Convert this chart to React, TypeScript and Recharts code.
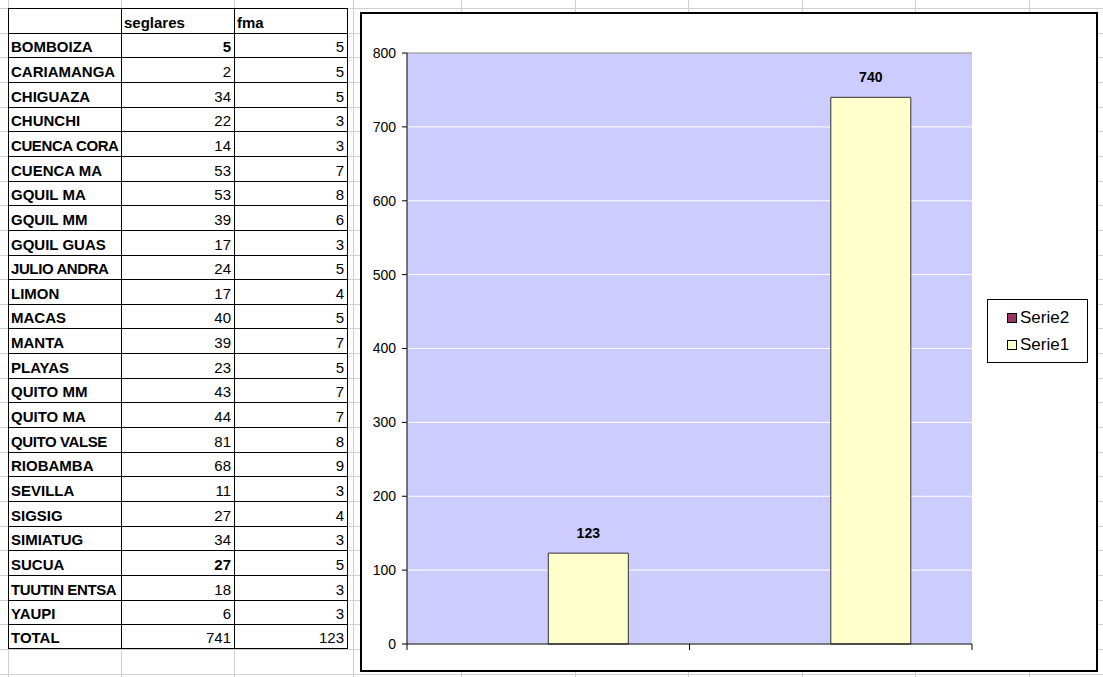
import React from 'react'
import { BarChart, Bar, XAxis, YAxis, CartesianGrid, ReferenceLine, LabelList } from 'recharts'

// chart series
const categories = ['1', '2']
const serie1 = [123, 740]
const serie2: (number | null)[] = [null, null]
const yTicks = [0, 100, 200, 300, 400, 500, 600, 700, 800]

// spreadsheet table
const headers = ['', 'seglares', 'fma']
const names = [
  'BOMBOIZA', 'CARIAMANGA', 'CHIGUAZA', 'CHUNCHI', 'CUENCA CORA', 'CUENCA MA', 'GQUIL MA', 'GQUIL MM',
  'GQUIL GUAS', 'JULIO ANDRA', 'LIMON', 'MACAS', 'MANTA', 'PLAYAS', 'QUITO MM', 'QUITO MA',
  'QUITO VALSE', 'RIOBAMBA', 'SEVILLA', 'SIGSIG', 'SIMIATUG', 'SUCUA', 'TUUTIN ENTSA', 'YAUPI', 'TOTAL'
]
const seglares = [5, 2, 34, 22, 14, 53, 53, 39, 17, 24, 17, 40, 39, 23, 43, 44, 81, 68, 11, 27, 34, 27, 18, 6, 741]
const fma = [5, 5, 5, 3, 3, 7, 8, 6, 3, 5, 4, 5, 7, 5, 7, 7, 8, 9, 3, 4, 3, 5, 3, 3, 123]
const boldSeglares = ['BOMBOIZA', 'SUCUA']

const FONT = '"Liberation Sans", Arial, sans-serif'
const ROW_H = 24.65
const TABLE_X = 8
const TABLE_Y = 8
const COL_W = [113, 113, 114]

const CHART_W = 734
const CHART_H = 656
const MARGIN = { top: 39, right: 124, bottom: 0, left: 0 }
const Y_AXIS_W = 45
const PLOT_W = CHART_W - MARGIN.left - MARGIN.right - Y_AXIS_W

const seriesInfo = [
  { key: 'Serie2', color: '#993366' },
  { key: 'Serie1', color: '#FFFFCC' },
]

const chartData = categories.map((name, i) => ({ name, Serie1: serie1[i], Serie2: serie2[i] }))

const SheetGrid = () => {
  const rows = Array.from({ length: 28 }, (_, k) => TABLE_Y + k * ROW_H)
  const cols = [8, 121, 234, 353, 461, 575, 688, 802, 915, 1029]
  return (
    <svg width={1103} height={677} style={{ position: 'absolute', left: 0, top: 0 }}>
      {rows.map((y, i) => (
        <line key={'r' + i} x1={0} x2={1103} y1={Math.round(y) + 0.5} y2={Math.round(y) + 0.5} stroke="#d0d0d0" />
      ))}
      {cols.map((x, i) => (
        <line key={'c' + i} x1={x + 0.5} x2={x + 0.5} y1={0} y2={677} stroke="#d0d0d0" />
      ))}
    </svg>
  )
}

const Table = () => {
  const colX = [TABLE_X, TABLE_X + COL_W[0], TABLE_X + COL_W[0] + COL_W[1]]
  const cell = (key: string, row: number, col: number, text: React.ReactNode, bold: boolean, align: 'left' | 'right') => {
    const top = Math.round(TABLE_Y + row * ROW_H)
    const bottom = Math.round(TABLE_Y + (row + 1) * ROW_H)
    const long = typeof text === 'string' && text.length > 10
    return (
      <div
        key={key}
        style={{
          position: 'absolute',
          left: colX[col],
          top,
          width: COL_W[col],
          height: bottom - top,
          boxSizing: 'border-box',
          borderLeft: '1px solid #000',
          borderTop: '1px solid #000',
          borderRight: col === 2 ? '1px solid #000' : undefined,
          borderBottom: row === names.length ? '1px solid #000' : undefined,
          background: '#fff',
          fontFamily: FONT,
          fontSize: 15,
          letterSpacing: long ? -0.4 : 0,
          fontWeight: bold ? 'bold' : 'normal',
          color: '#000',
          display: 'flex',
          alignItems: 'flex-end',
          justifyContent: align === 'right' ? 'flex-end' : 'flex-start',
          padding: '0 3px 2px 2px',
          overflow: 'hidden',
          whiteSpace: 'nowrap',
        }}
      >
        {text}
      </div>
    )
  }
  const cells: React.ReactNode[] = []
  headers.forEach((h, c) => cells.push(cell('h' + c, 0, c, h, true, 'left')))
  names.forEach((n, i) => {
    cells.push(cell('n' + i, i + 1, 0, n, true, 'left'))
    cells.push(cell('s' + i, i + 1, 1, seglares[i], boldSeglares.includes(n), 'right'))
    cells.push(cell('f' + i, i + 1, 2, fma[i], false, 'right'))
  })
  return <>{cells}</>
}

const LegendBox = () => (
  <div
    style={{
      position: 'absolute',
      left: 987,
      top: 299,
      width: 101,
      height: 64,
      boxSizing: 'border-box',
      border: '1px solid #000',
      background: '#fff',
      fontFamily: FONT,
      fontSize: 17,
      paddingTop: 4,
    }}
  >
    {seriesInfo.map(s => (
      <div key={s.key} style={{ display: 'flex', alignItems: 'center', height: 27, paddingLeft: 19 }}>
        <span
          style={{
            display: 'inline-block',
            width: 10,
            height: 10,
            boxSizing: 'border-box',
            border: '1px solid #000',
            background: s.color,
            marginRight: 3,
          }}
        />
        {s.key}
      </div>
    ))}
  </div>
)

// x axis has no labels, only tick marks on the category boundaries (Excel style)
const BoundaryTick = (props: any) => {
  const { x, y, index } = props
  const half = PLOT_W / categories.length / 2
  const y1 = y - 6
  return (
    <g>
      <line x1={x - half} x2={x - half} y1={y1} y2={y} stroke="#000" />
      {index === categories.length - 1 && <line x1={x + half} x2={x + half} y1={y1} y2={y} stroke="#000" />}
    </g>
  )
}

export default function App() {
  return (
    <div style={{ position: 'absolute', left: 0, top: 0, width: 1103, height: 677, background: '#fff', overflow: 'hidden' }}>
      <SheetGrid />
      <Table />
      <div
        style={{
          position: 'absolute',
          left: 360,
          top: 12,
          width: 738,
          height: 660,
          boxSizing: 'border-box',
          border: '2px solid #000',
          background: '#fff',
        }}
      >
        <BarChart
          width={CHART_W}
          height={CHART_H}
          data={chartData}
          margin={MARGIN}
          barCategoryGap="21.7%"
          barGap={0}
        >
          <CartesianGrid vertical={false} stroke="#ffffff" fill="#CCCCFF" fillOpacity={1} />
          <XAxis
            dataKey="name"
            interval={0}
            height={26}
            tickSize={6}
            tickMargin={0}
            tickLine={false}
            tick={BoundaryTick}
            axisLine={{ stroke: '#000' }}
          />
          <YAxis
            domain={[0, 800]}
            ticks={yTicks}
            interval={0}
            width={Y_AXIS_W}
            tickSize={5}
            tickMargin={6}
            axisLine={{ stroke: '#000' }}
            tickLine={{ stroke: '#000' }}
            tick={{ fontSize: 14, fill: '#000', fontFamily: FONT }}
          />
          <YAxis
            yAxisId="border"
            orientation="right"
            domain={[0, 800]}
            width={0}
            tick={false}
            tickLine={false}
            axisLine={{ stroke: '#808080' }}
          />
          <ReferenceLine y={800} stroke="#808080" />
          <Bar dataKey="Serie2" fill="#993366" stroke="#000" isAnimationActive={false} />
          <Bar dataKey="Serie1" fill="#FFFFCC" stroke="#333" isAnimationActive={false}>
            <LabelList
              dataKey="Serie1"
              position="top"
              offset={15}
              style={{ fontWeight: 'bold', fontSize: 14, fill: '#000', fontFamily: FONT }}
            />
          </Bar>
        </BarChart>
      </div>
      <LegendBox />
    </div>
  )
}
